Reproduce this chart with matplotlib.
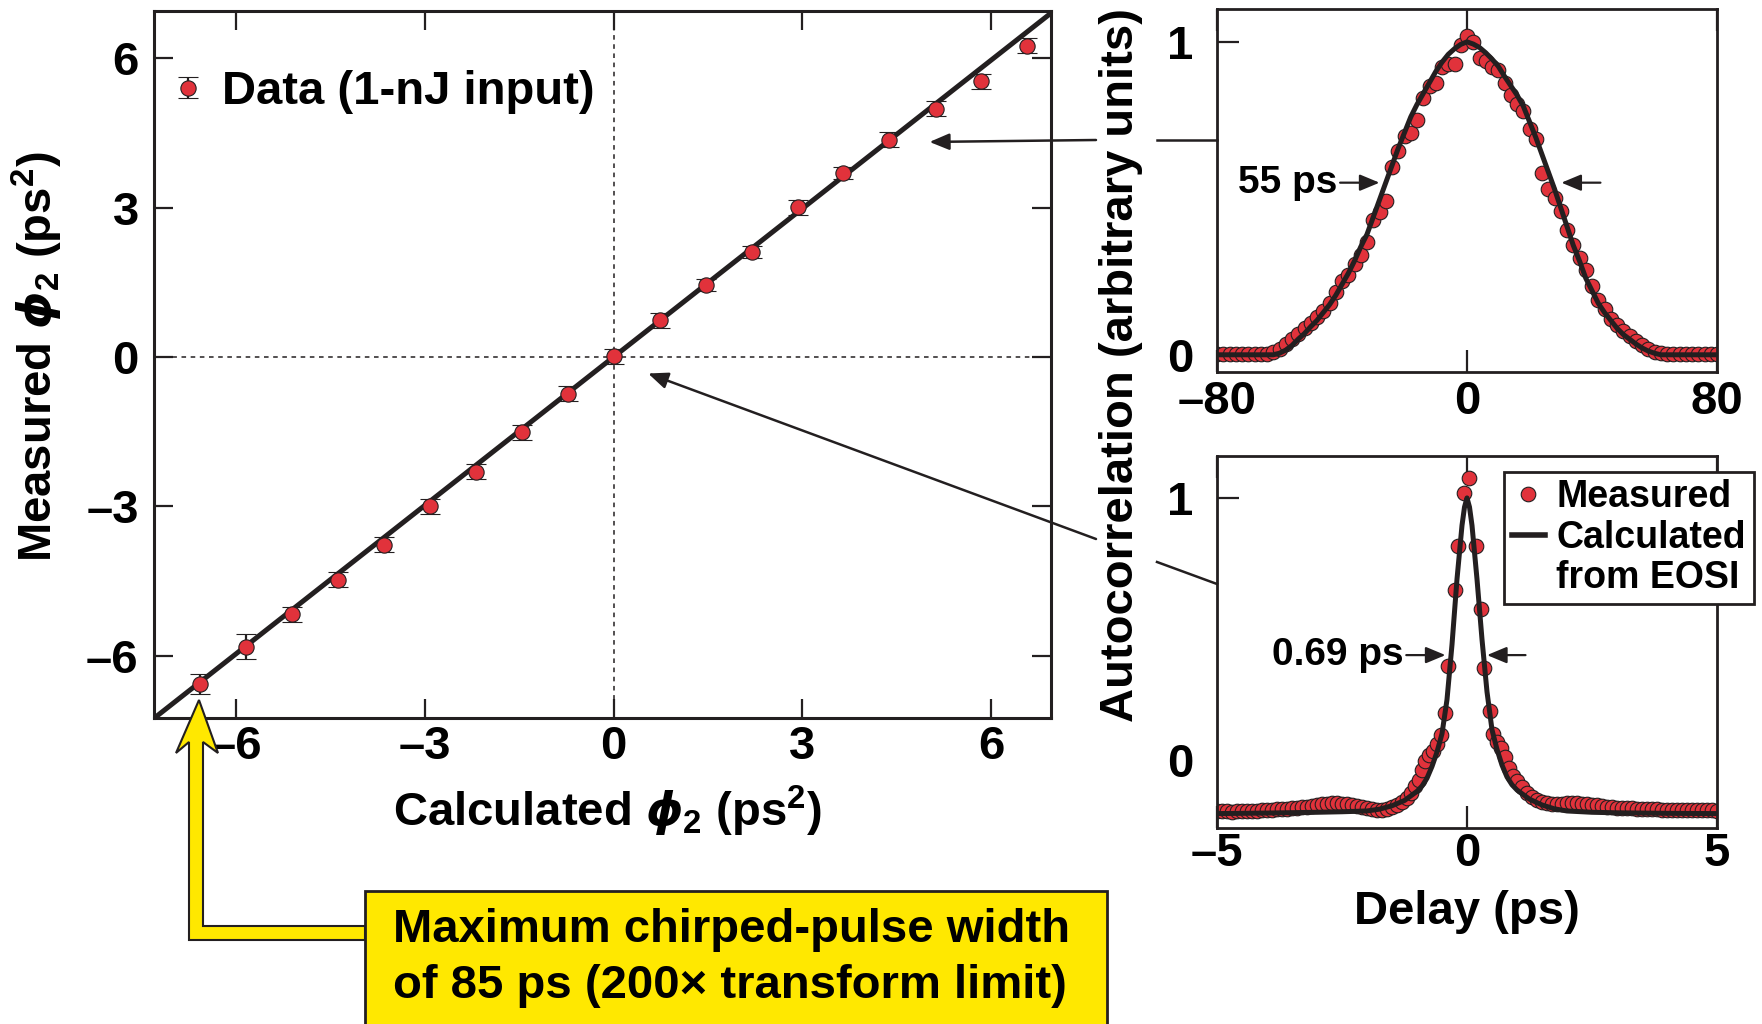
import matplotlib.pyplot as plt
from matplotlib.patches import Polygon, Rectangle
from matplotlib.lines import Line2D
from matplotlib.legend_handler import HandlerErrorbar

plt.rcParams['font.family'] = ['Liberation Sans', 'DejaVu Sans']
plt.rcParams['font.weight'] = 'bold'
plt.rcParams['mathtext.fontset'] = 'custom'
plt.rcParams['mathtext.rm'] = 'Liberation Sans:bold'
plt.rcParams['mathtext.bf'] = 'Liberation Sans:bold'
plt.rcParams['mathtext.it'] = 'DejaVu Sans:bold:italic'

#%% data
# calculated vs measured second-order dispersion (ps^2)
calc_phi2 = [-6.57, -5.84, -5.11, -4.38, -3.65, -2.92, -2.19, -1.46, -0.73, 0.0,
             0.74, 1.47, 2.20, 2.93, 3.65, 4.38, 5.12, 5.84, 6.57]
meas_phi2 = [-6.57, -5.82, -5.17, -4.47, -3.77, -3.00, -2.30, -1.51, -0.74, 0.02,
             0.74, 1.45, 2.11, 3.01, 3.69, 4.36, 4.99, 5.54, 6.25]
meas_err = [0.20, 0.25, 0.15, 0.15, 0.15, 0.15, 0.15, 0.15, 0.15, 0.15,
            0.15, 0.12, 0.12, 0.15, 0.12, 0.15, 0.15, 0.15, 0.15]
fit_slope = 0.994
fit_intercept = 0.0
main_ticks = [-6, -3, 0, 3, 6]
main_ticklabels = ['–6', '–3', '0', '3', '6']

# chirped pulse autocorrelation (delay in ps)
chirp_delay = [-80, -78, -76, -74, -72, -70, -68, -66, -64, -62, -60, -58, -56, -54,
               -52, -50, -48, -46, -44, -42, -40, -38, -36, -34, -32, -30, -28, -26,
               -24, -22, -20, -18, -16, -14, -12, -10, -8, -6, -4, -2, 0, 2, 4, 6, 8,
               10, 12, 14, 16, 18, 20, 22, 24, 26, 28, 30, 32, 34, 36, 38, 40, 42, 44,
               46, 48, 50, 52, 54, 56, 58, 60, 62, 64, 66, 68, 70, 72, 74, 76, 78, 80]
chirp_meas = [0.004, 0.002, 0.004, 0.002, 0.004, 0.002, 0.004, 0.002, 0.004, 0.008,
              0.02, 0.035, 0.05, 0.068, 0.085, 0.10, 0.12, 0.14, 0.165, 0.20, 0.235,
              0.255, 0.29, 0.32, 0.36, 0.43, 0.455, 0.49, 0.60, 0.65, 0.70, 0.71, 0.75,
              0.82, 0.86, 0.87, 0.92, 0.93, 0.93, 0.99, 1.02, 1.00, 0.95, 0.94, 0.92,
              0.91, 0.87, 0.83, 0.80, 0.78, 0.72, 0.69, 0.58, 0.53, 0.50, 0.46, 0.40,
              0.35, 0.31, 0.27, 0.22, 0.175, 0.145, 0.115, 0.095, 0.075, 0.06, 0.045,
              0.03, 0.018, 0.008, 0.005, 0.002, 0.004, 0.002, 0.004, 0.002, 0.004,
              0.002, 0.004, 0.002]
chirp_calc = [0.0, 0.0, 0.0, 0.0, 0.0, 0.0, 0.0, 0.0, 0.0, 0.0, 0.005, 0.015, 0.03,
              0.05, 0.068, 0.09, 0.11, 0.135, 0.16, 0.19, 0.225, 0.26, 0.30, 0.345,
              0.385, 0.44, 0.495, 0.55, 0.605, 0.66, 0.71, 0.76, 0.80, 0.835, 0.87,
              0.905, 0.935, 0.96, 0.978, 0.992, 1.0, 0.993, 0.982, 0.965, 0.945, 0.922,
              0.89, 0.86, 0.83, 0.795, 0.745, 0.695, 0.64, 0.585, 0.53, 0.47, 0.41,
              0.35, 0.30, 0.245, 0.205, 0.165, 0.135, 0.11, 0.085, 0.065, 0.05, 0.035,
              0.022, 0.012, 0.005, 0.0, 0.0, 0.0, 0.0, 0.0, 0.0, 0.0, 0.0, 0.0, 0.0]

# compressed pulse autocorrelation (delay in ps)
tl_delay = [-5.0, -4.9, -4.8, -4.7, -4.6, -4.5, -4.4, -4.3, -4.2, -4.1, -4.0, -3.9,
            -3.8, -3.7, -3.6, -3.5, -3.4, -3.3, -3.2, -3.1, -3.0, -2.9, -2.8, -2.7,
            -2.6, -2.5, -2.4, -2.3, -2.2, -2.1, -2.0, -1.9, -1.8, -1.7, -1.6, -1.5,
            -1.4, -1.3, -1.2, -1.12, -1.04, -0.97, -0.91, -0.84, -0.76, -0.68, -0.6,
            -0.52, -0.45, -0.38, -0.24, -0.18, -0.06, 0.04, 0.17, 0.27, 0.34, 0.45,
            0.52, 0.6, 0.68, 0.76, 0.84, 0.92, 1.0, 1.1, 1.2, 1.3, 1.4, 1.5, 1.6, 1.7,
            1.8, 1.9, 2.0, 2.1, 2.2, 2.3, 2.4, 2.5, 2.6, 2.7, 2.8, 2.9, 3.0, 3.1, 3.2,
            3.3, 3.4, 3.5, 3.6, 3.7, 3.8, 3.9, 4.0, 4.1, 4.2, 4.3, 4.4, 4.5, 4.6, 4.7,
            4.8, 4.9, 5.0]
tl_meas = [-0.195, -0.197, -0.196, -0.198, -0.197, -0.195, -0.196, -0.194, -0.195,
           -0.193, -0.192, -0.19, -0.189, -0.188, -0.186, -0.185, -0.183, -0.18,
           -0.178, -0.175, -0.172, -0.17, -0.167, -0.166, -0.165, -0.167, -0.17,
           -0.173, -0.177, -0.181, -0.185, -0.188, -0.19, -0.19, -0.187, -0.18,
           -0.172, -0.16, -0.145, -0.125, -0.10, -0.075, -0.04, -0.005, 0.02, 0.035,
           0.06, 0.095, 0.18, 0.36, 0.65, 0.815, 1.02, 1.075, 0.815, 0.575, 0.35,
           0.185, 0.10, 0.07, 0.045, 0.01, -0.03, -0.06, -0.08, -0.105, -0.125, -0.14,
           -0.152, -0.16, -0.166, -0.17, -0.17, -0.168, -0.166, -0.165, -0.166,
           -0.168, -0.17, -0.172, -0.174, -0.176, -0.178, -0.18, -0.182, -0.183,
           -0.184, -0.185, -0.186, -0.187, -0.188, -0.188, -0.189, -0.19, -0.19,
           -0.19, -0.191, -0.19, -0.191, -0.192, -0.191, -0.192, -0.193, -0.192,
           -0.194]
tl_calc_delay = [-5.0, -4.0, -3.0, -2.5, -2.0, -1.75, -1.5, -1.25, -1.0, -0.9, -0.8,
                 -0.7, -0.6, -0.5, -0.4, -0.3, -0.2, -0.1, -0.05, 0.0, 0.05, 0.1, 0.2,
                 0.3, 0.4, 0.5, 0.6, 0.7, 0.8, 0.9, 1.0, 1.25, 1.5, 1.75, 2.0, 2.5,
                 3.0, 4.0, 5.0]
tl_calc = [-0.205, -0.203, -0.2, -0.198, -0.195, -0.188, -0.175, -0.155, -0.12, -0.1,
           -0.07, -0.025, 0.03, 0.10, 0.23, 0.44, 0.69, 0.895, 0.965, 1.0, 0.965,
           0.895, 0.69, 0.46, 0.26, 0.115, 0.04, -0.02, -0.065, -0.095, -0.115,
           -0.15, -0.172, -0.187, -0.195, -0.2, -0.202, -0.204, -0.205]

#%% style
RED = '#E1323B'
INK = '#231f20'
YELLOW = '#FFE800'
FS = 34
W, H = 1762, 1024


def fpx(x, y):
    # pixel position (origin top-left) -> figure fraction
    return (x / W, 1 - y / H)


fig = plt.figure(figsize=(W / 100, H / 100), dpi=100)

#%% main panel
ax = fig.add_axes([154 / W, 1 - 718 / H, (1051 - 154) / W, (718 - 11) / H])
ax.axhline(0, color=INK, lw=1.1, ls=(0, (3, 3)), zorder=1)
ax.axvline(0, color=INK, lw=1.1, ls=(0, (3, 3)), zorder=1)
xlim = (-7.3, 6.95)
ax.plot(xlim, [fit_slope * v + fit_intercept for v in xlim], color=INK, lw=3.6, zorder=2)
eb = ax.errorbar(calc_phi2, meas_phi2, yerr=meas_err, fmt='o', ms=11, mfc=RED, mec=INK,
                 mew=0.8, ecolor=INK, elinewidth=1.6, capsize=7, capthick=2.4, zorder=3)
ax.set_xlim(xlim)
ax.set_ylim(-7.25, 6.95)
ax.set_xticks(main_ticks)
ax.set_xticklabels(main_ticklabels)
ax.set_yticks(main_ticks)
ax.set_yticklabels(main_ticklabels)
ax.tick_params(direction='in', top=True, right=True, length=14, width=1.6,
               labelsize=FS, color=INK)
ax.tick_params(axis='x', pad=5)
ax.tick_params(axis='y', pad=11)
for s in ax.spines.values():
    s.set_linewidth(2.2)
    s.set_color(INK)
ax.legend([eb], ['Data (1-nJ input)'], loc='center left', bbox_to_anchor=(0.02, 0.885),
          frameon=False, fontsize=FS, handlelength=0.7, handletextpad=0.35,
          borderaxespad=0, borderpad=0,
          handler_map={type(eb): HandlerErrorbar(xerr_size=0.2, yerr_size=0.22)})

fig.text(*fpx(37, 357), r'Measured $\phi_2$ (ps$^2$)', rotation=90, ha='center',
         va='center', fontsize=FS)
fig.text(*fpx(607, 811), r'Calculated $\phi_2$ (ps$^2$)', ha='center', va='center',
         fontsize=FS)

#%% insets
ax1 = fig.add_axes([1217 / W, 1 - 372 / H, 500 / W, (372 - 9) / H])
ax1.plot(chirp_delay, chirp_meas, 'o', ms=10.5, mfc=RED, mec=INK, mew=0.8, zorder=2)
ax1.plot(chirp_delay, chirp_calc, color=INK, lw=3.6, zorder=3)
ax1.set_xlim(-80, 80)
ax1.set_ylim(-0.055, 1.105)
ax1.set_xticks([-80, 0, 80])
ax1.set_xticklabels(['–80', '0', '80'])
ax1.set_yticks([0, 1])
ax1.tick_params(axis='x', direction='in', top=True, length=16, width=1.6, pad=6,
                labelsize=FS, color=INK)
ax1.tick_params(axis='y', direction='in', length=16, width=1.6, pad=17,
                labelsize=FS, color=INK)
ax1.yaxis.get_major_ticks()[0].tick1line.set_visible(False)
ax1.annotate('55 ps', xy=(-28, 0.55), xytext=(-41.5, 0.55), ha='right', va='center',
             fontsize=28, arrowprops=dict(arrowstyle='-|>,head_length=0.6,head_width=0.25',
                                          color=INK, lw=1.6, shrinkA=0, shrinkB=0,
                                          mutation_scale=20))
ax1.annotate('', xy=(30.2, 0.55), xytext=(42.7, 0.55),
             arrowprops=dict(arrowstyle='-|>,head_length=0.6,head_width=0.25', color=INK,
                             lw=1.6, shrinkA=0, shrinkB=0, mutation_scale=20))

ax2 = fig.add_axes([1217 / W, 1 - 828 / H, 500 / W, (828 - 456) / H])
ax2.plot(tl_delay, tl_meas, 'o', ms=10.5, mfc=RED, mec=INK, mew=0.8, zorder=2)
ax2.plot(tl_calc_delay, tl_calc, color=INK, lw=3.6, zorder=3)
ax2.set_xlim(-5, 5)
ax2.set_ylim(-0.26, 1.16)
ax2.set_xticks([-5, 0, 5])
ax2.set_xticklabels(['–5', '0', '5'])
ax2.set_yticks([0, 1])
ax2.tick_params(axis='x', direction='in', top=True, length=16, width=1.6, pad=3,
                labelsize=FS, color=INK)
ax2.tick_params(axis='y', direction='in', length=16, width=1.6, pad=17,
                labelsize=FS, color=INK)
ax2.yaxis.get_major_ticks()[0].tick1line.set_visible(False)
ax2.annotate('0.69 ps', xy=(-0.43, 0.40), xytext=(-1.27, 0.40), ha='right', va='center',
             fontsize=28, arrowprops=dict(arrowstyle='-|>,head_length=0.6,head_width=0.25',
                                          color=INK, lw=1.6, shrinkA=0, shrinkB=0,
                                          mutation_scale=20))
ax2.annotate('', xy=(0.40, 0.40), xytext=(1.17, 0.40),
             arrowprops=dict(arrowstyle='-|>,head_length=0.6,head_width=0.25', color=INK,
                             lw=1.6, shrinkA=0, shrinkB=0, mutation_scale=20))

handles = [Line2D([], [], ls='none', marker='o', ms=10.5, mfc=RED, mec=INK, mew=0.8),
           Line2D([], [], color=INK, lw=4),
           Line2D([], [], visible=False)]
leg = ax2.legend(handles, ['Measured', 'Calculated', 'from EOSI'], loc='upper left',
                 bbox_to_anchor=(0.574, 0.957), fontsize=27, frameon=True, fancybox=False,
                 edgecolor=INK, framealpha=1, handlelength=0.9, handletextpad=0.3,
                 borderpad=0.2, labelspacing=0.12, borderaxespad=0)
leg.get_frame().set_linewidth(2.0)

for a in (ax1, ax2):
    for s in a.spines.values():
        s.set_linewidth(2.0)
        s.set_color(INK)

fig.text(*fpx(1121, 365), 'Autocorrelation (arbitrary units)', rotation=90, ha='center',
         va='center', fontsize=FS)
fig.text(*fpx(1467, 912), 'Delay (ps)', ha='center', va='center', fontsize=FS)

#%% connectors from the insets to the dispersion plot
arrow_kw = dict(arrowstyle='-|>,head_length=0.6,head_width=0.25', color=INK, lw=1.8,
                shrinkA=0, shrinkB=0, mutation_scale=20)
ax.annotate('', xy=(5.02, 4.32), xycoords='data', xytext=fpx(1096, 140),
            textcoords='figure fraction', arrowprops=arrow_kw, annotation_clip=False)
fig.add_artist(Line2D([1157 / W, 1217 / W], [1 - 140 / H, 1 - 140 / H],
                      transform=fig.transFigure, color=INK, lw=1.8))
ax.annotate('', xy=(0.55, -0.33), xycoords='data', xytext=fpx(1096, 539),
            textcoords='figure fraction', arrowprops=arrow_kw, annotation_clip=False)
fig.add_artist(Line2D([1157 / W, 1217 / W], [1 - 562 / H, 1 - 584 / H],
                      transform=fig.transFigure, color=INK, lw=1.8))

#%% yellow call-out
callout = [(199, 700), (218, 753), (203, 742), (203, 926), (365, 926), (365, 940),
           (189, 940), (189, 742), (176, 753)]
fig.add_artist(Polygon([fpx(x, y) for x, y in callout], closed=True,
                       transform=fig.transFigure, facecolor=YELLOW, edgecolor=INK,
                       lw=1.5, zorder=5))
fig.add_artist(Rectangle(fpx(365, 1030), (1107 - 365) / W, (1030 - 891) / H,
                         transform=fig.transFigure, facecolor=YELLOW, edgecolor=INK,
                         lw=2.0, zorder=5))
fig.text(*fpx(393, 958), 'Maximum chirped-pulse width\nof 85 ps (200× transform limit)',
         ha='left', va='center', fontsize=FS, linespacing=1.38, zorder=6)

fig.savefig('out.png', dpi=100)
